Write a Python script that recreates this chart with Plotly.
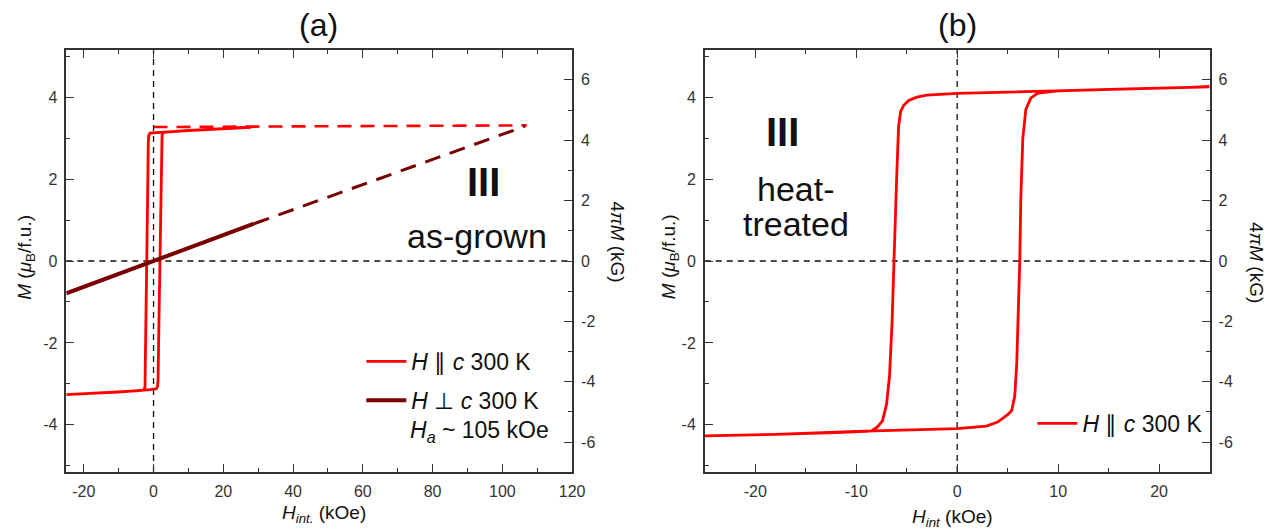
import plotly.graph_objects as go
from plotly.subplots import make_subplots

# ---------------- data ----------------
# Panel (a): as-grown, H || c, 300 K hysteresis loop (ascending then descending)
a_par_H = [-25, -18, -10, -5, -1, 0.8, 1.15, 1.3, 1.55, 1.8, 2.05, 2.3, 2.45, 2.9, 5, 10, 20, 28,
           20, 10, 4, 1, 0, -1.0, -1.35, -1.5, -1.7, -1.9, -2.1, -2.3, -2.45, -2.9, -5, -10, -18, -25]
a_par_M = [-3.26, -3.23, -3.2, -3.17, -3.14, -3.12, -3.06, -2.9, -1.5, 0.0, 1.5, 2.9, 3.08, 3.14, 3.16, 3.19, 3.23, 3.26,
           3.22, 3.18, 3.15, 3.14, 3.13, 3.12, 3.07, 2.9, 1.5, 0.0, -1.5, -2.9, -3.08, -3.15, -3.17, -3.2, -3.23, -3.26]
# Panel (a): H || c extrapolation to saturation (dashed)
a_par_ext_H = [0, 28, 107]
a_par_ext_M = [3.27, 3.28, 3.31]
# Panel (a): H perpendicular c, 300 K (measured, solid) and extrapolation (dashed)
a_perp_H = [-25, 0, 28.8]
a_perp_M = [-0.79, 0.0, 0.91]
a_perp_ext_H = [28.8, 106.5]
a_perp_ext_M = [0.91, 3.29]

# Panel (b): heat-treated, H || c, 300 K hysteresis loop
b_par_H = [25, 15, 8, 5, 0, -3, -4, -4.8, -5.3, -5.6, -5.8, -6.0, -6.2, -6.3, -6.45, -6.7, -7.0, -7.4, -7.9, -8.5, -12, -18, -25,
           -18, -10, -5, 0, 2.9, 4.0, 4.5, 5.0, 5.4, 5.7, 5.9, 6.1, 6.2, 6.3, 6.5, 6.8, 7.3, 8, 10, 15, 25]
b_par_M = [4.25, 4.19, 4.14, 4.12, 4.09, 4.05, 4.0, 3.92, 3.8, 3.65, 3.3, 2.0, 0.5, 0.0, -1.5, -2.8, -3.5, -3.9, -4.05, -4.15, -4.19, -4.23, -4.27,
           -4.23, -4.16, -4.12, -4.09, -4.03, -3.93, -3.84, -3.75, -3.65, -3.3, -2.5, -1.0, 0.0, 1.5, 3.0, 3.7, 3.98, 4.1, 4.15, 4.19, 4.25]

# conversion M (muB/f.u.) -> 4piM (kG)
KG_PER_MUB = 1.357

# axis ticks
a_xticks = [-20, 0, 20, 40, 60, 80, 100, 120]
a_xtext = ["-20", "0", "20", "40", "60", "80", "100", "120"]
a_xminor = [-20, -10, 0, 10, 20, 30, 40, 50, 60, 70, 80, 90, 100, 110, 120]
b_xticks = [-20, -10, 0, 10, 20]
b_xtext = ["-20", "-10", "0", "10", "20"]
b_xminor = [-25, -20, -15, -10, -5, 0, 5, 10, 15, 20, 25]
m_ticks = [-4, -2, 0, 2, 4]
m_text = ["-4", "-2", "0", "2", "4"]
m_minor = [-5, -4, -3, -2, -1, 0, 1, 2, 3, 4, 5]
kg_ticks = [-6, -4, -2, 0, 2, 4, 6]
kg_text = ["-6", "-4", "-2", "0", "2", "4", "6"]
kg_minor = [-7, -6, -5, -4, -3, -2, -1, 0, 1, 2, 3, 4, 5, 6, 7]

# ---------------- figure ----------------
W, H = 1281, 531
FONT = "Liberation Sans, Arial, Helvetica, sans-serif"
RED = "#ff0000"
DRED = "#7a0000"
AX = "#333333"

fig = make_subplots(rows=1, cols=2, specs=[[{"secondary_y": True}, {"secondary_y": True}]])

fig.add_trace(go.Scatter(x=a_par_ext_H, y=a_par_ext_M, mode="lines",
                         line=dict(color=RED, width=2.6, dash="14px,9px"), showlegend=False), row=1, col=1)
fig.add_trace(go.Scatter(x=a_perp_ext_H, y=a_perp_ext_M, mode="lines",
                         line=dict(color=DRED, width=3, dash="16px,10px"), showlegend=False), row=1, col=1)
fig.add_trace(go.Scatter(x=a_par_H, y=a_par_M, mode="lines", line=dict(color=RED, width=2.8),
                         name="<i>H</i> ∥ <i>c</i> 300 K", legend="legend", legendgroup="g1"), row=1, col=1)
fig.add_trace(go.Scatter(x=a_perp_H, y=a_perp_M, mode="lines", line=dict(color=DRED, width=4),
                         name="<i>H</i> ⊥ <i>c</i> 300 K", legend="legend", legendgroup="g2"), row=1, col=1)
fig.add_trace(go.Scatter(x=b_par_H, y=b_par_M, mode="lines", line=dict(color=RED, width=2.8),
                         name="<i>H</i> ∥ <i>c</i> 300 K", legend="legend2"), row=1, col=2)
# empty traces so that the right-hand 4πM axes are drawn
fig.add_trace(go.Scatter(x=[], y=[], mode="lines", showlegend=False, hoverinfo="skip"),
              row=1, col=1, secondary_y=True)
fig.add_trace(go.Scatter(x=[], y=[], mode="lines", showlegend=False, hoverinfo="skip"),
              row=1, col=2, secondary_y=True)

xa = (67 / W, 578 / W)
xb = (712 / W, 1222 / W)
yd = (1 - 472 / H, 1 - 50 / H)
M_MAX = 5.15

common = dict(showgrid=False, zeroline=False, showline=True, linecolor=AX, linewidth=1.5,
              ticks="inside", ticklen=8, tickwidth=1.3, tickcolor=AX,
              tickfont=dict(family=FONT, size=16, color=AX), ticklabelstandoff=4)
minor_style = dict(ticks="inside", ticklen=4, tickwidth=1.2, tickcolor=AX)

fig.update_layout(
    xaxis=dict(domain=xa, range=[-25, 120], tickmode="array", tickvals=a_xticks, ticktext=a_xtext,
               minor=dict(tickmode="array", tickvals=a_xminor, **minor_style), mirror="ticks", **common),
    yaxis=dict(domain=yd, range=[-M_MAX, M_MAX], tickmode="array", tickvals=m_ticks, ticktext=m_text,
               minor=dict(tickmode="array", tickvals=m_minor, **minor_style), **common),
    yaxis2=dict(range=[-M_MAX * KG_PER_MUB, M_MAX * KG_PER_MUB], tickmode="array", tickvals=kg_ticks,
                ticktext=kg_text, minor=dict(tickmode="array", tickvals=kg_minor, **minor_style),
                side="right", **common),
    xaxis2=dict(domain=xb, range=[-25, 25], tickmode="array", tickvals=b_xticks, ticktext=b_xtext,
                minor=dict(tickmode="array", tickvals=b_xminor, **minor_style), mirror="ticks", **common),
    yaxis3=dict(domain=yd, range=[-M_MAX, M_MAX], tickmode="array", tickvals=m_ticks, ticktext=m_text,
                minor=dict(tickmode="array", tickvals=m_minor, **minor_style), **common),
    yaxis4=dict(range=[-M_MAX * KG_PER_MUB, M_MAX * KG_PER_MUB], tickmode="array", tickvals=kg_ticks,
                ticktext=kg_text, minor=dict(tickmode="array", tickvals=kg_minor, **minor_style),
                side="right", **common),
)

fig.update_layout(
    width=W, height=H, margin=dict(l=0, r=0, t=0, b=0),
    paper_bgcolor="white", plot_bgcolor="white",
    font=dict(family=FONT, color="#111111"),
    legend=dict(x=365 / W, y=1 - 340 / H, xanchor="left", yanchor="top", bgcolor="rgba(0,0,0,0)",
                font=dict(family=FONT, size=23, color="#111111"), tracegroupgap=6, itemwidth=40),
    legend2=dict(x=1043 / W, y=1 - 402 / H, xanchor="left", yanchor="top", bgcolor="rgba(0,0,0,0)",
                 font=dict(family=FONT, size=23, color="#111111"), itemwidth=40),
)

# zero reference lines
for xr, yr in (("x", "y"), ("x2", "y3")):
    fig.add_shape(type="line", xref=xr, yref=yr + " domain", x0=0, x1=0, y0=0, y1=1,
                  line=dict(color="#111111", width=1.3, dash="6px,5px"), layer="below")
    fig.add_shape(type="line", xref=xr + " domain", yref=yr, x0=0, x1=1, y0=0, y1=0,
                  line=dict(color="#111111", width=1.3, dash="6px,5px"), layer="below")

def ann(text, x, y, size, angle=0, bold=False):
    fig.add_annotation(text=("<b>%s</b>" % text) if bold else text, x=x / W, y=1 - y / H,
                       xref="paper", yref="paper", showarrow=False, textangle=angle,
                       xanchor="center", yanchor="middle",
                       font=dict(family=FONT, size=size, color="#111111"))

# panel titles
ann("(a)", 322, 25, 32)
ann("(b)", 967, 25, 32)
# axis titles
ann("<i>M</i> (<i>μ</i><sub>B</sub>/f.u.)", 26, 257, 19, angle=-90)
ann("<i>M</i> (<i>μ</i><sub>B</sub>/f.u.)", 677, 257, 19, angle=-90)
ann("4<i>πM</i> (kG)", 624, 242, 19, angle=90)
ann("4<i>πM</i> (kG)", 1270, 262, 19, angle=90)
ann("<i>H</i><sub><i>int.</i></sub> (kOe)", 327, 514, 19)
ann("<i>H</i><sub><i>int</i></sub> (kOe)", 962, 518, 19)
# in-plot labels
ann("III", 488, 182, 40, bold=True)
ann("as-grown", 482, 236, 34)
ann("III", 791, 132, 40, bold=True)
ann("heat-", 804, 189, 34)
ann("treated", 804, 224, 34)
ann("<i>H</i><sub><i>a</i></sub> ~ 105 kOe", 484, 431, 23)

fig.write_html("out.html", config={"displayModeBar": False},
               post_script="document.body.style.margin='0';document.body.style.overflow='hidden';")
